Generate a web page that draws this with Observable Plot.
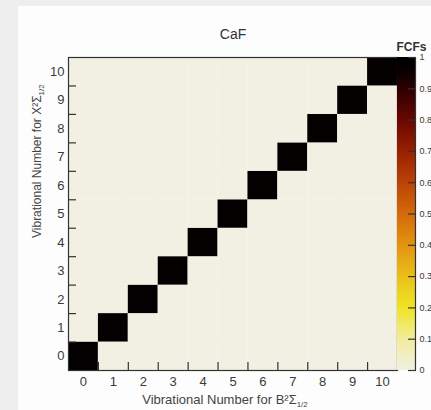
<!DOCTYPE html>
<html><head><meta charset="utf-8">
<script src="https://cdn.jsdelivr.net/npm/d3@7"></script>
<script src="https://cdn.jsdelivr.net/npm/@observablehq/plot@0.6"></script>
<style>
html,body{margin:0;padding:0;background:#eeeeee;}
#wrap{position:relative;width:431px;height:410px;overflow:hidden;}
#panel{position:absolute;left:18px;top:6px;width:413px;height:404px;background:#fdfdfd;}
#wrap svg{position:absolute;left:0;top:0;}
</style></head><body><div id="wrap"><div id="panel"></div></div>
<script>
const chartTitle = "CaF";
const xTitle = "Vibrational Number for B²Σ";
const yTitle = "Vibrational Number for X²Σ";
const titleSub = "1/2";
const legendTitle = "FCFs";
const vB = [0, 1, 2, 3, 4, 5, 6, 7, 8, 9, 10];
const vX = [0, 1, 2, 3, 4, 5, 6, 7, 8, 9, 10];
const diagFCF = [0.99, 0.99, 0.99, 0.98, 0.98, 0.98, 0.98, 0.98, 0.97, 0.97, 0.97];
const adjFCF = [0.002, 0.002, 0.002, 0.002, 0.002, 0.002, 0.002, 0.002, 0.002, 0.002];
const barTicks = [0, 0.1, 0.2, 0.3, 0.4, 0.5, 0.6, 0.7, 0.8, 0.9, 1];
const paletteStops = [0, 0.1, 0.2, 0.3, 0.4, 0.5, 0.6, 0.7, 0.8, 0.9, 0.96, 1];
const paletteColors = ["#f1f0e3", "#f1ec9c", "#f0e424", "#e9c01a", "#e29412", "#d46a0a", "#bc4306", "#992002", "#680800", "#2c0000", "#060000", "#000000"];

const cells = [];
vX.forEach((y, j) => vB.forEach((x, i) => {
  let v = 0;
  if (i === j) v = diagFCF[i];
  else if (Math.abs(i - j) === 1) v = adjFCF[Math.min(i, j)];
  cells.push({x, y, v});
}));
const edges = vB.slice(1).map(v => v - 0.5);
const colorOpts = {type: "linear", domain: paletteStops, range: paletteColors, clamp: true};
const font = "'Liberation Sans', Arial, Helvetica, sans-serif";

const main = Plot.plot({
  width: 431, height: 410,
  marginLeft: 68, marginRight: 34, marginTop: 57, marginBottom: 40,
  style: {background: "transparent", fontFamily: font, color: "#3a3a3a", overflow: "visible"},
  x: {domain: [-0.5, 10.5]},
  y: {domain: [-0.5, 10.5]},
  color: colorOpts,
  marks: [
    Plot.rect(cells, {x1: d => d.x - 0.5, x2: d => d.x + 0.5, y1: d => d.y - 0.5, y2: d => d.y + 0.5, fill: "v"}),
    Plot.frame({stroke: "#333", strokeWidth: 1.2}),
    Plot.axisX(edges, {tickSize: -8, tickFormat: () => "", stroke: "#333", strokeWidth: 1.2, label: null}),
    Plot.axisX(vB, {tickSize: 0, tickPadding: 6, fontSize: 13, label: null}),
    Plot.axisY(edges, {tickSize: -8, tickFormat: () => "", stroke: "#333", strokeWidth: 1.2, label: null}),
    Plot.axisY(vX, {tickSize: 0, tickPadding: 4, fontSize: 13, label: null}),
    Plot.text([chartTitle], {frameAnchor: "top", dy: -28, fontSize: 14, fill: "#333"}),
    Plot.text([xTitle], {frameAnchor: "bottom", dy: 33, dx: -8, fontSize: 13, fill: "#444"}),
    Plot.text([yTitle], {frameAnchor: "left", dx: -31, dy: 24, rotate: -90, fontSize: 12, fill: "#444"})
  ]
});

const barVals = d3.range(0, 1, 0.005);
const bar = Plot.plot({
  width: 431, height: 410,
  marginLeft: 397, marginRight: 16, marginTop: 57, marginBottom: 40,
  style: {background: "none", fontFamily: font, color: "#3a3a3a", overflow: "visible"},
  x: {domain: [0, 1], axis: null},
  y: {domain: [0, 1], axis: null},
  color: colorOpts,
  marks: [
    Plot.rect(barVals, {x1: 0, x2: 1, y1: d => d, y2: d => Math.min(1, d + 0.02), fill: d => d + 0.0025}),
    Plot.ruleX([1], {stroke: "#333", strokeWidth: 1.2}),
    Plot.axisY(barTicks, {anchor: "right", tickSize: -8, tickPadding: 12, fontSize: 9, stroke: "#333", strokeWidth: 1.2, label: null, tickFormat: d => String(+d.toFixed(1))}),
    Plot.text([legendTitle], {frameAnchor: "top", dy: -15, dx: 5, fontSize: 12, fontWeight: "bold", fill: "#333"})
  ]
});

const wrap = document.getElementById("wrap");
wrap.appendChild(main);
wrap.appendChild(bar);

d3.select(main).selectAll("text").filter(function() {
  return this.textContent === xTitle || this.textContent === yTitle;
}).each(function() {
  d3.select(this).append("tspan").attr("font-size", 8).attr("dy", 3).text(titleSub);
});
</script></body></html>
